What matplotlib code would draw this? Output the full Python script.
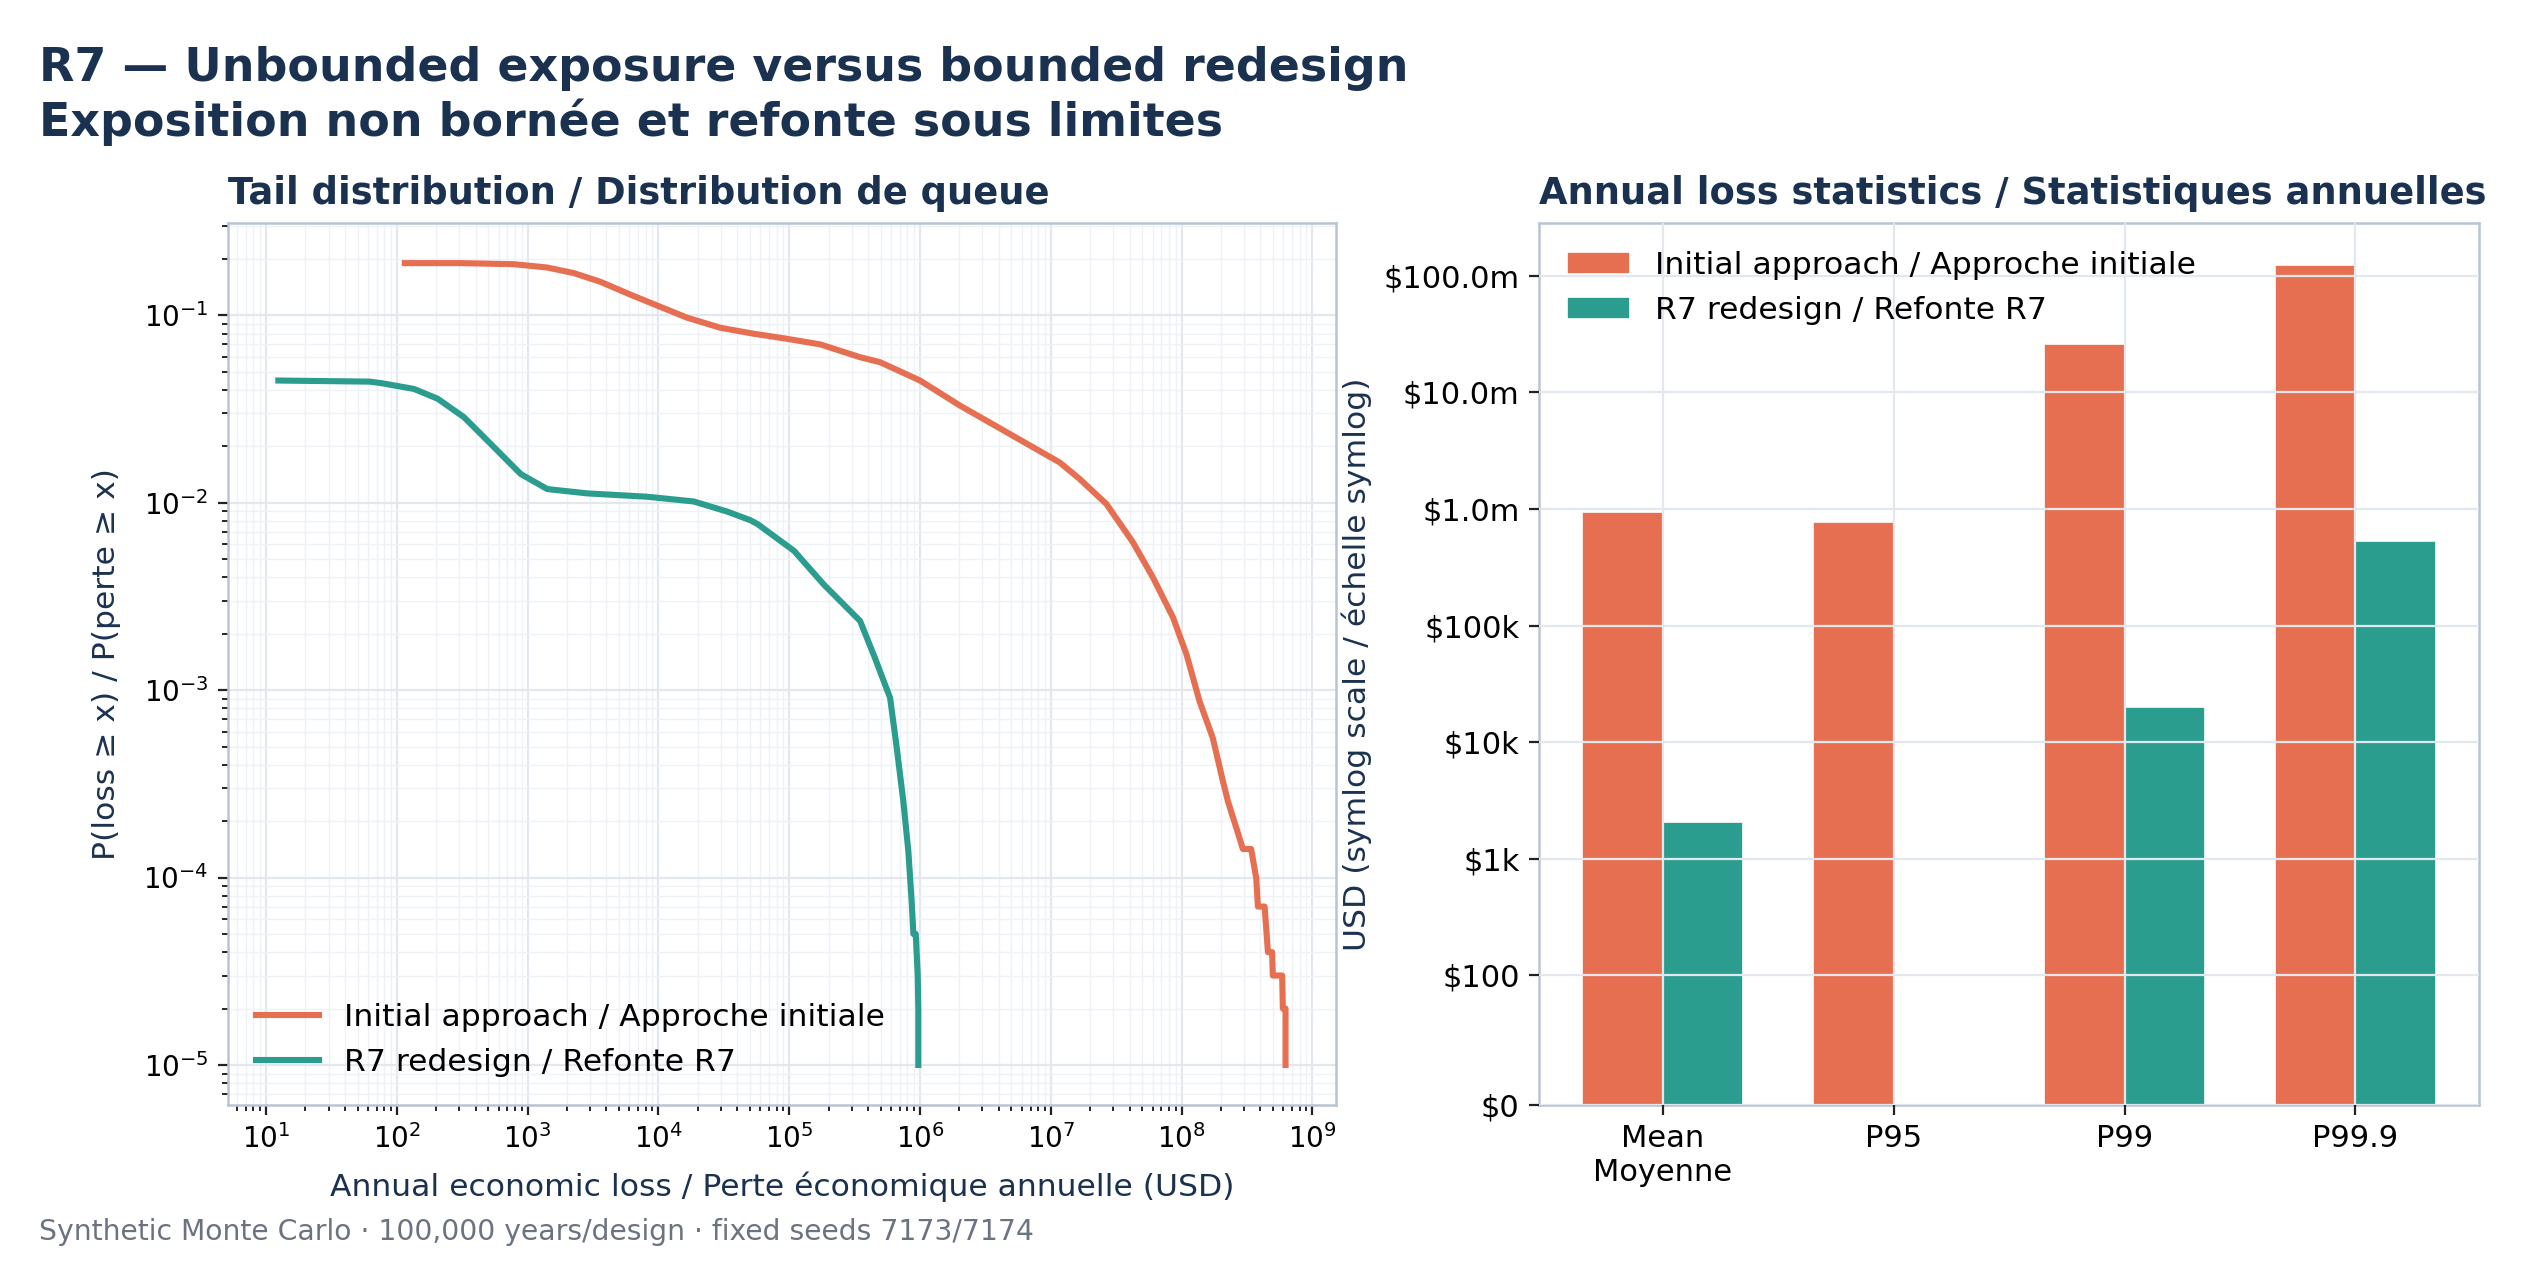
import numpy as np
import matplotlib
matplotlib.use("Agg")
import matplotlib.pyplot as plt
from matplotlib.ticker import FuncFormatter, FixedLocator, NullLocator

# ---------------- data ----------------
loss_initial = [115, 308, 787, 1413, 2259, 3605, 6110, 10350, 16550, 29700, 53400,
                95900, 172500, 348000, 496000, 664000, 1.0e6, 2.02e6, 4.59e6, 1.17e7,
                1.66e7, 2.66e7, 4.25e7, 6.04e7, 8.6e7, 1.09e8, 1.37e8, 1.73e8, 2.07e8,
                2.26e8, 2.62e8, 2.94e8, 3.40e8, 3.72e8, 3.83e8, 4.31e8, 4.57e8, 4.92e8,
                4.98e8, 5.87e8, 5.94e8, 6.23e8, 6.23e8]
p_initial = [0.190, 0.190, 0.1875, 0.180, 0.168, 0.151, 0.129, 0.111, 0.0972, 0.0859,
             0.0798, 0.0750, 0.0700, 0.0598, 0.0562, 0.0512, 0.0449, 0.0330, 0.0238,
             0.0164, 0.0134, 0.00985, 0.00614, 0.00399, 0.00244, 0.00155, 0.000873,
             0.000556, 0.000326, 0.000255, 0.000184, 0.000142, 0.000142, 9.9e-5, 7.0e-5,
             7.0e-5, 4.0e-5, 4.0e-5, 3.0e-5, 3.0e-5, 2.0e-5, 2.0e-5, 1.0e-5]

loss_r7 = [12.4, 62, 75.5, 135, 205, 326, 522, 885, 1413, 2852, 8180, 18600, 33400,
           50400, 57300, 109000, 183000, 348000, 451000, 590000, 664000, 745000,
           814000, 863000, 889000, 927000, 960000, 970000, 970000]
p_r7 = [0.0449, 0.0443, 0.0435, 0.0405, 0.0359, 0.0286, 0.0206, 0.01423, 0.01183,
        0.01122, 0.01077, 0.01016, 0.00898, 0.00807, 0.00769, 0.00553, 0.00367,
        0.00234, 0.00149, 0.00091, 0.00049, 0.000255, 0.000138, 7.4e-5, 5.0e-5,
        5.0e-5, 3.0e-5, 2.0e-5, 1.0e-5]

stat_labels = ["Mean\nMoyenne", "P95", "P99", "P99.9"]
stat_initial = [0.94e6, 0.77e6, 25.8e6, 123.5e6]
stat_r7 = [2050, 0, 20000, 531000]
usd_ticks = [0, 1e2, 1e3, 1e4, 1e5, 1e6, 1e7, 1e8]

series_names = ["Initial approach / Approche initiale", "R7 redesign / Refonte R7"]

# ---------------- style ----------------
C_INIT = "#E76F51"
C_R7 = "#2A9D8F"
NAVY = "#1b3150"
SPINE = "#b8c4d2"
GRID = "#e3e7ee"
GRID_MINOR = "#eef1f6"

plt.rcParams["font.family"] = ["DejaVu Sans"]

fig = plt.figure(figsize=(2533 / 200, 1287 / 200), dpi=200)

ax1 = fig.add_axes([0.0900, 0.1414, 0.4374, 0.6853])
ax2 = fig.add_axes([0.6076, 0.1414, 0.3711, 0.6853])

# ---- left: tail distribution ----
ax1.plot(loss_initial, p_initial, color=C_INIT, lw=2.2, label=series_names[0])
ax1.plot(loss_r7, p_r7, color=C_R7, lw=2.2, label=series_names[1])
ax1.set_xscale("log")
ax1.set_yscale("log")
ax1.grid(True, which="major", color=GRID, lw=0.8)
ax1.grid(True, which="minor", color=GRID_MINOR, lw=0.5)
ax1.set_axisbelow(True)
ax1.set_title("Tail distribution / Distribution de queue", loc="left",
              fontsize=13.3, fontweight="bold", color=NAVY, pad=7)
ax1.set_xlabel("Annual economic loss / Perte économique annuelle (USD)",
               fontsize=11.3, color=NAVY, labelpad=6)
ax1.set_ylabel("P(loss ≥ x) / P(perte ≥ x)", fontsize=11.3, color=NAVY, labelpad=8)
ax1.legend(loc="lower left", frameon=False, fontsize=11.3, handlelength=2.0)

# ---- right: bar stats ----
x = np.arange(len(stat_labels))
w = 0.35
ax2.bar(x - w / 2, stat_initial, width=w, color=C_INIT, edgecolor="white",
        linewidth=0.6, label=series_names[0])
ax2.bar(x + w / 2, stat_r7, width=w, color=C_R7, edgecolor="white",
        linewidth=0.6, label=series_names[1])
ax2.set_yscale("symlog", linthresh=100, linscale=1)
ax2.yaxis.set_major_locator(FixedLocator(usd_ticks))
ax2.yaxis.set_minor_locator(NullLocator())


def usd_fmt(v, pos):
    if v == 0:
        return "$0"
    if v >= 1e6:
        return f"${v / 1e6:.1f}m"
    if v >= 1e3:
        return f"${v / 1e3:.0f}k"
    return f"${v:.0f}"


ax2.yaxis.set_major_formatter(FuncFormatter(usd_fmt))
ax2.set_xticks(x)
ax2.set_xticklabels(stat_labels)
ax2.grid(True, which="major", color=GRID, lw=0.8)
ax2.set_axisbelow(False)
ax2.set_title("Annual loss statistics / Statistiques annuelles", loc="left",
              fontsize=13.3, fontweight="bold", color=NAVY, pad=7)
ax2.set_ylabel("USD (symlog scale / échelle symlog)", fontsize=11.3, color=NAVY)
ax2.legend(loc="upper left", frameon=False, fontsize=11.3)

for ax in (ax1, ax2):
    for s in ax.spines.values():
        s.set_color(SPINE)
        s.set_linewidth(0.9)
    ax.tick_params(colors="#222222", labelcolor="black")
ax1.tick_params(labelsize=10)
ax2.tick_params(labelsize=11)

fig.text(0.0154, 0.9645, "R7 — Unbounded exposure versus bounded redesign\n"
         "Exposition non bornée et refonte sous limites",
         ha="left", va="top", fontsize=16.5, fontweight="bold", color=NAVY,
         linespacing=1.2)
fig.text(0.0154, 0.0427, "Synthetic Monte Carlo · 100,000 years/design · fixed seeds 7173/7174",
         ha="left", va="center", fontsize=10.2, color="#6b7280")

fig.savefig("out.png", dpi=200)
